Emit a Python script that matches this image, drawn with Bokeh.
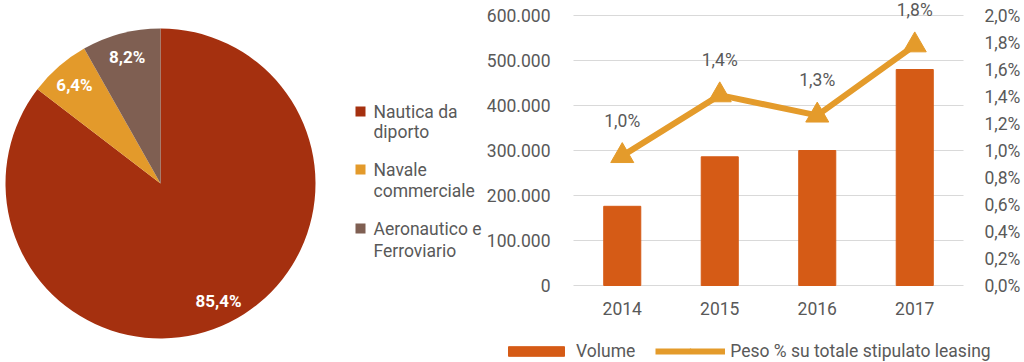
import numpy as np
from bokeh.plotting import figure
from bokeh.models import (Range1d, LinearAxis, FixedTicker, CustomJSTickFormatter,
                          ColumnDataSource, Legend, LegendItem)
from bokeh.core.properties import value
from bokeh.embed import file_html
from bokeh.resources import INLINE

# ---------------- data ----------------
pie_categories = ["Nautica da diporto", "Navale commerciale", "Aeronautico e Ferroviario"]
pie_line1 = ["Nautica da", "Navale", "Aeronautico e"]
pie_line2 = ["diporto", "commerciale", "Ferroviario"]
pie_shares = [85.4, 6.4, 8.2]
pie_labels = ["85,4%", "6,4%", "8,2%"]

years = ["2014", "2015", "2016", "2017"]
volume = [176000, 286000, 300000, 480000]
peso = [0.96, 1.41, 1.26, 1.78]
peso_labels = ["1,0%", "1,4%", "1,3%", "1,8%"]
volume_ticks = [0, 100000, 200000, 300000, 400000, 500000, 600000]
peso_ticks = [0.0, 0.2, 0.4, 0.6, 0.8, 1.0, 1.2, 1.4, 1.6, 1.8, 2.0]
legend_labels = ["Volume", "Peso % su totale stipulato leasing"]

# ---------------- style / layout constants ----------------
FONT = "Roboto"
GRAY = "#595959"
PIE_COLORS = ["#A5300F", "#E39A2B", "#7F5F52"]
BAR_COLOR = "#D55B16"
LINE_COLOR = "#E49B2B"
GRID = "#D9D9D9"
FS = "17.5px"

W, H = 1024, 362
PLOT_LEFT, PLOT_RIGHT = 573, 963      # pixel columns of the bar plot area
Y0_PX, YTOP_PX = 285, 15              # pixel rows of 0 and of 600.000 / 2,0%

n = len(years)
px_per_cat = (PLOT_RIGHT - PLOT_LEFT) / n
x_start = -0.5 - PLOT_LEFT / px_per_cat
px_per_val = (Y0_PX - YTOP_PX) / volume_ticks[-1]
px_per_pct = (Y0_PX - YTOP_PX) / peso_ticks[-1]

p = figure(width=W, height=H,
           x_range=Range1d(x_start, x_start + W / px_per_cat),
           y_range=Range1d(-(H - Y0_PX) / px_per_val, Y0_PX / px_per_val),
           x_axis_type=None, y_axis_type=None, min_border=0, title=None,
           outline_line_color=None, output_backend="svg", toolbar_location=None)
p.grid.visible = False
p.extra_y_ranges = {"pct": Range1d(-(H - Y0_PX) / px_per_pct, Y0_PX / px_per_pct),
                    "py": Range1d(0, H)}
p.extra_x_ranges = {"px": Range1d(0, W)}

# ---------------- pie ----------------
cx, cy, R = 160, H - 183, 155
fr = np.array(pie_shares) / np.sum(pie_shares)
cum = np.concatenate([[0.0], np.cumsum(fr)])
start = np.pi / 2 - cum[:-1] * 2 * np.pi
end = np.pi / 2 - cum[1:] * 2 * np.pi
mid = (start + end) / 2
lr = 0.845 * R
pie_src = ColumnDataSource(dict(start=start, end=end, color=PIE_COLORS,
                                lx=cx + lr * np.cos(mid), ly=cy + lr * np.sin(mid),
                                label=pie_labels, cat=pie_categories))
p.wedge(x=cx, y=cy, radius=R, start_angle="start", end_angle="end", direction="clock",
        fill_color="color", line_color=None, source=pie_src,
        x_range_name="px", y_range_name="py")
p.text(x="lx", y="ly", text="label", source=pie_src, text_color="white",
       text_font=value(FONT), text_font_style="bold", text_font_size="17px",
       text_align="center", text_baseline="middle", x_range_name="px", y_range_name="py")

# pie legend (wrapped labels)
leg_y1 = [H - 111, H - 169, H - 228]
leg_y2 = [H - 131, H - 190, H - 250]
p.scatter(x=360, y=leg_y1, marker="square", size=10, color=PIE_COLORS, line_color=None,
          x_range_name="px", y_range_name="py")
p.text(x=373, y=leg_y1, text=pie_line1, text_color=GRAY, text_font=value(FONT),
       text_font_size=FS, text_align="left", text_baseline="middle",
       x_range_name="px", y_range_name="py")
p.text(x=373, y=leg_y2, text=pie_line2, text_color=GRAY, text_font=value(FONT),
       text_font_size=FS, text_align="left", text_baseline="middle",
       x_range_name="px", y_range_name="py")

# ---------------- bar + line ----------------
xs = np.arange(n)
p.segment(x0=-0.5, x1=n - 0.5, y0=volume_ticks, y1=volume_ticks, line_color=GRID,
          line_width=1)
vb = p.vbar(x=xs, top=volume, width=0.38, color=BAR_COLOR)
ln = p.line(x=xs, y=peso, y_range_name="pct", line_width=6, color=LINE_COLOR,
            line_join="round")
sc = p.scatter(x=xs, y=peso, y_range_name="pct", marker="triangle", size=23,
               color=LINE_COLOR)
p.text(x=xs, y=peso, text=peso_labels, y_range_name="pct", y_offset=-35,
       text_color=GRAY, text_font=value(FONT), text_font_size=FS,
       text_align="center", text_baseline="middle")

left = LinearAxis(fixed_location=-0.5, ticker=FixedTicker(ticks=volume_ticks),
                  formatter=CustomJSTickFormatter(
                      code="return tick == 0 ? '0' : (tick/1000).toFixed(0) + '.000';"))
right = LinearAxis(fixed_location=n - 0.5, y_range_name="pct",
                   ticker=FixedTicker(ticks=peso_ticks),
                   formatter=CustomJSTickFormatter(
                       code="return tick.toFixed(1).replace('.', ',') + '%';"))
bottom = LinearAxis(fixed_location=0, ticker=FixedTicker(ticks=list(range(n))),
                    formatter=CustomJSTickFormatter(args=dict(labels=years),
                                                    code="return labels[Math.round(tick)];"))
for ax in (left, right, bottom):
    ax.axis_line_color = None
    ax.major_tick_line_color = None
    ax.minor_tick_line_color = None
    ax.major_label_text_font = FONT
    ax.major_label_text_font_size = FS
    ax.major_label_text_color = GRAY
left.major_label_standoff = 17
right.major_label_standoff = 15
bottom.major_label_standoff = 10
p.add_layout(left, "left")
p.add_layout(right, "right")
p.add_layout(bottom, "below")

legend = Legend(items=[LegendItem(label=legend_labels[0], renderers=[vb]),
                       LegendItem(label=legend_labels[1], renderers=[ln, sc])],
                orientation="horizontal", location=(501, 1),
                glyph_width=70, glyph_height=12, label_height=20,
                label_standoff=5, spacing=20, padding=0, margin=0,
                border_line_color=None, background_fill_alpha=0,
                label_text_font=FONT, label_text_font_size=FS,
                label_text_color=GRAY, label_text_baseline="alphabetic")
p.add_layout(legend)

open("out.html", "w").write(file_html(p, INLINE))
